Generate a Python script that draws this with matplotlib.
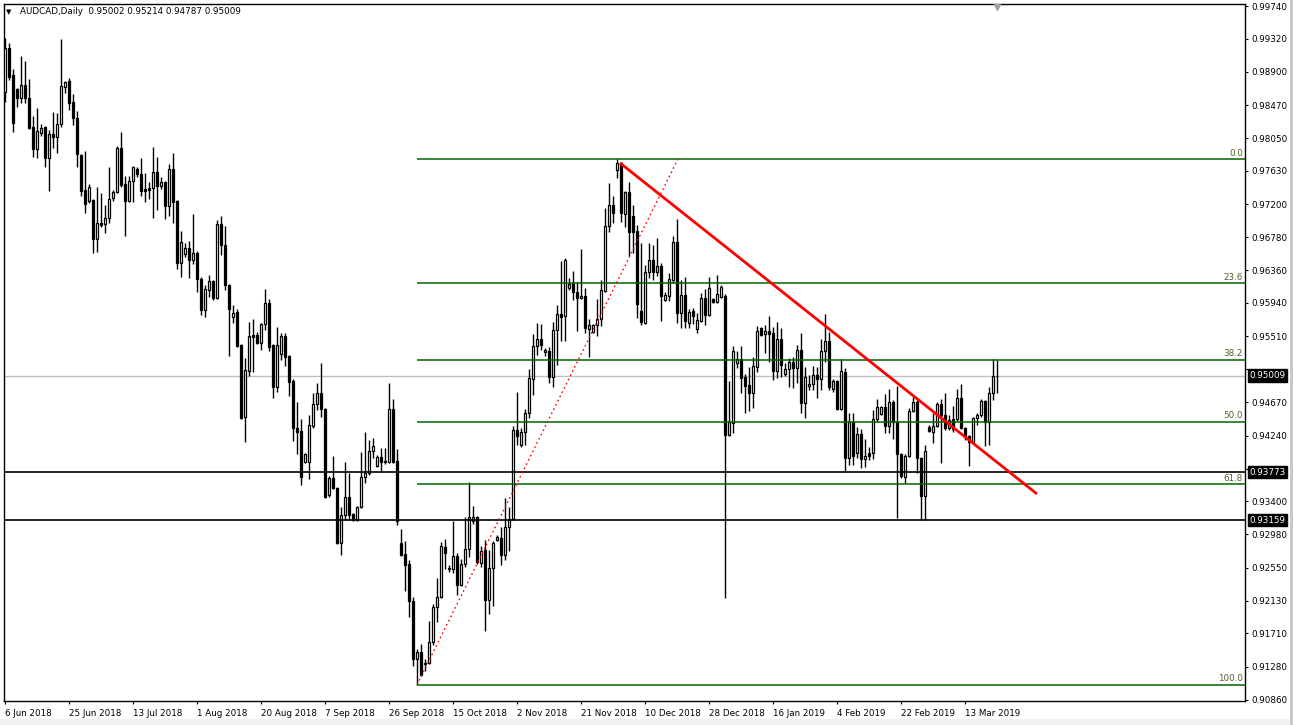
import numpy as np
import matplotlib
matplotlib.use("Agg")
import matplotlib.pyplot as plt
from matplotlib.patches import Rectangle
import matplotlib.transforms as mtransforms

# AUDCAD daily bars (one bar per trading day incl. Sunday bars)
opens = [
    .98639, .99203, .98857, .98678, .98563, .98729, .98563, .98191, .97910, .98115, .98191, .97795,
    .98102, .98063, .98230, .98703, .98780, .98511, .98307, .97833, .97385, .97244, .97257, .96758,
    .96963, .96950, .97027, .97283, .97359, .97923, .97462, .97244, .97500, .97654, .97590, .97398,
    .97411, .97411, .97615, .97436, .97487, .97180, .97654, .97244, .96451, .96566, .96643, .96489,
    .96579, .96246, .95849, .96105, .96220, .96003, .96950, .96681, .96169, .95759, .95823, .95401,
    .94479, .95068, .95529, .95529, .95427, .95670, .95939, .95401, .94863, .95286, .95516, .95260,
    .94940, .94339, .94300, .93903, .93903, .94364, .94646, .94787, .94582, .93481, .93699, .93571,
    .92867, .93225, .93455, .93238, .93161, .93327, .93711, .93763, .94044, .93852, .93967, .93903,
    .93903, .94582, .93916, .92867, .92726, .92598, .92124, .91382, .91471, .91318, .91331, .91599,
    .92047, .92175, .92815, .92547, .92534, .92700, .92329, .92598, .92790, .93148, .93199, .92611,
    .92777, .92137, .92547, .92905, .92931, .92713, .93071, .93174, .94313, .94121, .94287, .94531,
    .94966, .95388, .95478, .95311, .95324, .94991, .95593, .95798, .95772, .96131, .96195, .96079,
    .96003, .96028, .95606, .95567, .95657, .95734, .96092, .96924, .97193, .97641, .97731, .97078,
    .97359, .97052, .96860, .95836, .95683, .96335, .96489, .96335, .96412, .95977, .96028, .96233,
    .96719, .95811, .96041, .95683, .95836, .95606, .95709, .96003, .95785, .95990, .95951, .96015,
    .96028, .94249, .94403, .95171, .95222, .94991, .94889, .94787, .95119, .95619, .95542, .95580,
    .95555, .95068, .95478, .95030, .95094, .95183, .95107, .95337, .94659, .94876, .94902, .95017,
    .94966, .95324, .95452, .94838, .94940, .94582, .95055, .93955, .94416, .94019, .94262, .93942,
    .94019, .94019, .94454, .94518, .94607, .94364, .94671, .94416, .94006, .93711, .93980, .94556,
    .94671, .93955, .93468, .94351, .94287, .94364, .94646, .94505, .94339, .94454, .94454, .94723,
    .94339, .94236, .94159, .94467, .94505, .94684, .94416, .94787, .95002,
]
highs = [
    .99331, .99267, .98934, .98691, .99100, .99036, .98806, .98332, .98435, .98230, .98204, .98153,
    .98383, .98371, .99318, .98780, .98819, .98614, .98396, .97846, .97884, .97462, .97270, .97423,
    .97347, .97193, .97679, .97385, .97948, .98127, .97564, .97564, .97692, .97679, .97795, .97603,
    .97487, .97935, .97807, .97551, .97500, .97718, .97859, .97257, .96860, .96707, .96732, .97078,
    .96604, .96271, .96169, .96297, .96233, .97001, .97052, .96924, .96182, .95913, .95862, .95414,
    .95235, .95695, .95734, .95567, .95683, .96118, .95990, .95414, .95631, .95555, .95555, .95273,
    .94966, .94671, .94454, .94019, .94505, .94787, .94915, .95171, .94595, .93724, .93980, .93583,
    .93327, .93903, .93763, .93251, .93340, .94031, .94287, .94185, .94211, .93993, .94083, .94083,
    .94915, .94710, .94070, .93046, .92892, .92649, .92175, .91510, .91574, .91382, .91868, .92086,
    .92419, .92879, .92918, .92585, .93148, .92739, .92662, .93199, .93647, .93340, .93212, .92828,
    .92905, .92777, .92892, .92969, .93071, .93443, .93327, .94364, .94799, .94339, .94582, .95094,
    .95542, .95683, .95670, .95363, .95375, .95695, .95913, .96476, .96515, .96259, .96348, .96207,
    .96630, .96131, .95734, .95670, .95990, .96233, .97155, .97475, .97308, .97782, .97743, .97372,
    .97487, .97193, .96937, .96707, .96425, .96707, .96681, .96771, .96451, .96079, .96323, .96796,
    .97014, .96233, .96271, .95862, .95875, .95811, .96067, .96118, .96271, .96003, .96297, .96169,
    .96054, .94940, .95388, .95324, .95388, .95030, .95119, .95247, .95644, .95631, .95657, .95772,
    .95631, .95695, .95619, .95171, .95235, .95247, .95401, .95555, .95119, .95017, .95132, .95119,
    .95478, .95798, .95567, .94966, .94953, .95222, .95107, .94531, .94531, .94351, .94326, .94198,
    .94095, .94569, .94710, .94620, .94774, .94838, .94697, .94876, .94019, .94006, .94595, .94735,
    .94697, .93967, .94121, .94377, .94531, .94671, .94710, .94787, .94505, .94620, .94838, .94902,
    .94351, .94249, .94479, .94531, .94710, .94697, .94863, .95222, .95214,
]
lows = [
    .98511, .98793, .98127, .98447, .98499, .98499, .98166, .97807, .97795, .98076, .97679, .97372,
    .97923, .97859, .98191, .98627, .98409, .98217, .97679, .97308, .97091, .97219, .96579, .96591,
    .96911, .96835, .96963, .97244, .97347, .97423, .96796, .97231, .97231, .97551, .97308, .97231,
    .97270, .97027, .97129, .97398, .97014, .97052, .96963, .96374, .96271, .96527, .96259, .96438,
    .96079, .95785, .95759, .96015, .95977, .95990, .96553, .96105, .95260, .95683, .95375, .94454,
    .94159, .95004, .95055, .95414, .95337, .95593, .95324, .94723, .94799, .95209, .95132, .94748,
    .94172, .94006, .93609, .93891, .93686, .94339, .94569, .94479, .93443, .93455, .93558, .92854,
    .92713, .93161, .93161, .93148, .93148, .93314, .93635, .93737, .93955, .93839, .93775, .93878,
    .93891, .93891, .93097, .92700, .92252, .91919, .91292, .91052, .91164, .91228, .91318, .91561,
    .91855, .92163, .92534, .92495, .92483, .92201, .92316, .92559, .92687, .93110, .92598, .92559,
    .91740, .91958, .92060, .92892, .92585, .92649, .92764, .93161, .94121, .94095, .94121, .94467,
    .94761, .95273, .95337, .95260, .94915, .94863, .95145, .95452, .95452, .96105, .95977, .95580,
    .95990, .95555, .95247, .95555, .95516, .95644, .96079, .96847, .96963, .97539, .96976, .96911,
    .96540, .96579, .95747, .95657, .95670, .96259, .96233, .96284, .95709, .95964, .95964, .96195,
    .95683, .95619, .95619, .95619, .95670, .95555, .95695, .95657, .95772, .95939, .95939, .96003,
    .92163, .94236, .94275, .95107, .94787, .94531, .94556, .94595, .95055, .95516, .95299, .95183,
    .94953, .94979, .94991, .95004, .94863, .94851, .94915, .94531, .94467, .94825, .94825, .94723,
    .94825, .95183, .94825, .94799, .94569, .94569, .93775, .93865, .93865, .93955, .93827, .93839,
    .93929, .93942, .94415, .94505, .94275, .94275, .94198, .93187, .93699, .93635, .93967, .94544,
    .93763, .93161, .93161, .94287, .94147, .94351, .93891, .94313, .94313, .94287, .94428, .94326,
    .94185, .93852, .94147, .94377, .94479, .94108, .94121, .94697, .94787,
]
closes = [
    .99203, .98831, .98243, .98563, .98729, .98563, .98179, .97910, .98140, .98179, .97795, .98102,
    .98063, .98230, .98716, .98767, .98499, .98307, .97846, .97372, .97206, .97423, .96758, .96963,
    .96937, .97027, .97270, .97359, .97923, .97449, .97244, .97500, .97679, .97590, .97372, .97372,
    .97385, .97615, .97436, .97487, .97180, .97654, .97231, .96451, .96719, .96643, .96489, .96579,
    .96246, .95849, .96118, .96220, .96003, .96950, .96681, .96169, .95862, .95811, .95388, .94467,
    .95081, .95516, .95503, .95427, .95670, .95939, .95375, .94863, .95401, .95516, .95247, .94927,
    .94339, .94287, .93711, .94006, .94377, .94646, .94787, .94582, .93455, .93699, .93571, .92867,
    .93225, .93455, .93225, .93161, .93327, .93711, .93763, .94044, .94108, .93967, .93903, .93916,
    .94582, .93903, .93148, .92713, .92585, .92124, .91382, .91471, .91177, .91331, .91599, .92047,
    .92175, .92828, .92739, .92534, .92700, .92329, .92598, .92790, .93199, .93199, .92623, .92764,
    .92137, .92547, .92867, .92943, .92713, .93071, .93174, .94313, .94236, .94287, .94531, .94979,
    .95388, .95478, .95401, .95337, .94991, .95593, .95798, .95759, .96489, .96182, .96079, .96003,
    .96028, .95619, .95657, .95657, .95734, .96105, .96924, .97193, .97091, .97731, .97091, .97359,
    .96847, .96847, .95925, .95695, .96335, .96489, .96335, .96412, .96028, .96041, .96246, .96719,
    .95811, .96041, .95709, .95823, .95772, .95721, .96003, .95785, .96131, .95951, .96054, .96144,
    .94249, .94415, .95324, .95222, .94979, .94877, .94787, .95132, .95580, .95529, .95580, .95542,
    .95068, .95478, .95145, .95094, .95183, .95107, .95337, .94659, .94991, .94902, .95017, .94966,
    .95324, .95452, .94863, .94940, .94582, .95068, .93955, .94416, .93980, .94262, .93942, .93980,
    .93980, .94454, .94607, .94607, .94364, .94671, .94416, .94006, .93724, .93980, .94556, .94671,
    .93955, .93468, .94044, .94300, .94364, .94646, .94505, .94339, .94441, .94326, .94723, .94339,
    .94223, .94159, .94467, .94505, .94684, .94416, .94787, .95004, .95009,
]

date_labels = ["6 Jun 2018", "25 Jun 2018", "13 Jul 2018", "1 Aug 2018", "20 Aug 2018",
               "7 Sep 2018", "26 Sep 2018", "15 Oct 2018", "2 Nov 2018", "21 Nov 2018",
               "10 Dec 2018", "28 Dec 2018", "16 Jan 2019", "4 Feb 2019", "22 Feb 2019",
               "13 Mar 2019"]
date_bars = list(range(0, 241, 16))

price_ticks = [0.99740, 0.99320, 0.98900, 0.98470, 0.98050, 0.97630, 0.97200, 0.96780,
               0.96360, 0.95940, 0.95510, 0.95090, 0.94670, 0.94240, 0.93820, 0.93400,
               0.92980, 0.92550, 0.92130, 0.91710, 0.91280, 0.90860]
# these two sit under the black price boxes
hidden_ticks = [0.95090, 0.93820]

fib_high = 0.97782
fib_low = 0.91052
fib_levels = [0.0, 23.6, 38.2, 50.0, 61.8, 100.0]
fib_start_bar = 103

support_levels = [0.93773, 0.93159]
last_price = 0.95009

# trend lines: (bar, price) pairs
down_trend = [(153.75, 0.97731), (258.0, 0.93494)]
up_trend = [(103.0, 0.91052), (168.25, 0.97782)]

o = np.array(opens); h = np.array(highs); l = np.array(lows); c = np.array(closes)
x = np.arange(len(o))

W, H = 1293, 725
fig = plt.figure(figsize=(W / 100, H / 100), dpi=100)
fig.patch.set_facecolor("white")
ax = fig.add_axes([4 / W, (H - 701) / H, 1241 / W, 697 / H])
ax.set_xlim(-0.25, 310.0)
ax.set_ylim(0.90844, 0.99766)

# window frame bits
fig.patches.append(Rectangle((0, 0), 1, 6 / H, transform=fig.transFigure,
                             facecolor="#f0f0f0", edgecolor="none", zorder=0))
fig.patches.append(Rectangle((1 - 3 / W, 0), 3 / W, 1, transform=fig.transFigure,
                             facecolor="#c8c8c8", edgecolor="none", zorder=0))

# levels
for lv in fib_levels:
    p = fib_high - (fib_high - fib_low) * lv / 100.0
    ax.hlines(p, fib_start_bar, 310, color="#006400", lw=1.1, zorder=4)
    ax.annotate(f"{lv:.1f}", xy=(309.5, p), xytext=(0, 1), textcoords="offset points",
                ha="right", va="bottom", fontsize=6.3, color="#4f6228", zorder=5)
for lv in support_levels:
    ax.axhline(lv, color="black", lw=1.2, zorder=4)
ax.axhline(last_price, color="#c0c0c0", lw=1, zorder=1)

# candles
bull = c >= o
ax.vlines(x, l, h, color="black", lw=1.0, zorder=2)
ax.bar(x[bull], (c - o)[bull], bottom=o[bull], width=0.5, facecolor="white",
       edgecolor="black", linewidth=0.9, zorder=3)
ax.bar(x[~bull], (o - c)[~bull], bottom=c[~bull], width=0.5, facecolor="black",
       edgecolor="black", linewidth=0.9, zorder=3)

# trend lines
ax.plot(*zip(*down_trend), color="#ff0000", lw=2.0, zorder=6, solid_capstyle="butt")
ax.plot(*zip(*up_trend), color="#ff0000", lw=1.0, ls=(0, (1.2, 2.2)), zorder=6)

# axes styling
for s in ax.spines.values():
    s.set_color("black")
    s.set_linewidth(1.0)
ax.yaxis.tick_right()
ax.set_yticks(price_ticks)
ax.set_yticklabels(["" if p in hidden_ticks else f"{p:.5f}" for p in price_ticks])
ax.set_xticks(date_bars)
ax.set_xticklabels(date_labels, ha="left")
ax.tick_params(axis="both", direction="out", length=2.5, width=0.8, labelsize=6.3,
               colors="black", pad=2)
ax.tick_params(axis="x", pad=3)
ax.set_facecolor("white")

# price labels on the right scale
trans = mtransforms.blended_transform_factory(ax.transAxes, ax.transData)
for lv in [last_price] + support_levels:
    ax.text(1.0035, lv, f"{lv:.5f}", transform=trans, ha="left", va="center",
            fontsize=6.3, color="white", clip_on=False, zorder=10,
            bbox=dict(boxstyle="square,pad=0.2", facecolor="black", edgecolor="black"))

# chart shift marker
ax.plot([993 / 1241 * 310.25 - 0.25], [0.99730], marker="v", color="#a0a0a0",
        markersize=5, clip_on=False, zorder=7)

# header
fig.text(6 / W, 1 - 12 / H, "\u25bc", fontsize=5, va="center", ha="left")
fig.text(20 / W, 1 - 12 / H, "AUDCAD,Daily  0.95002 0.95214 0.94787 0.95009",
         fontsize=6.3, va="center", ha="left", color="black")

fig.savefig("out.png", dpi=100, facecolor="white")
